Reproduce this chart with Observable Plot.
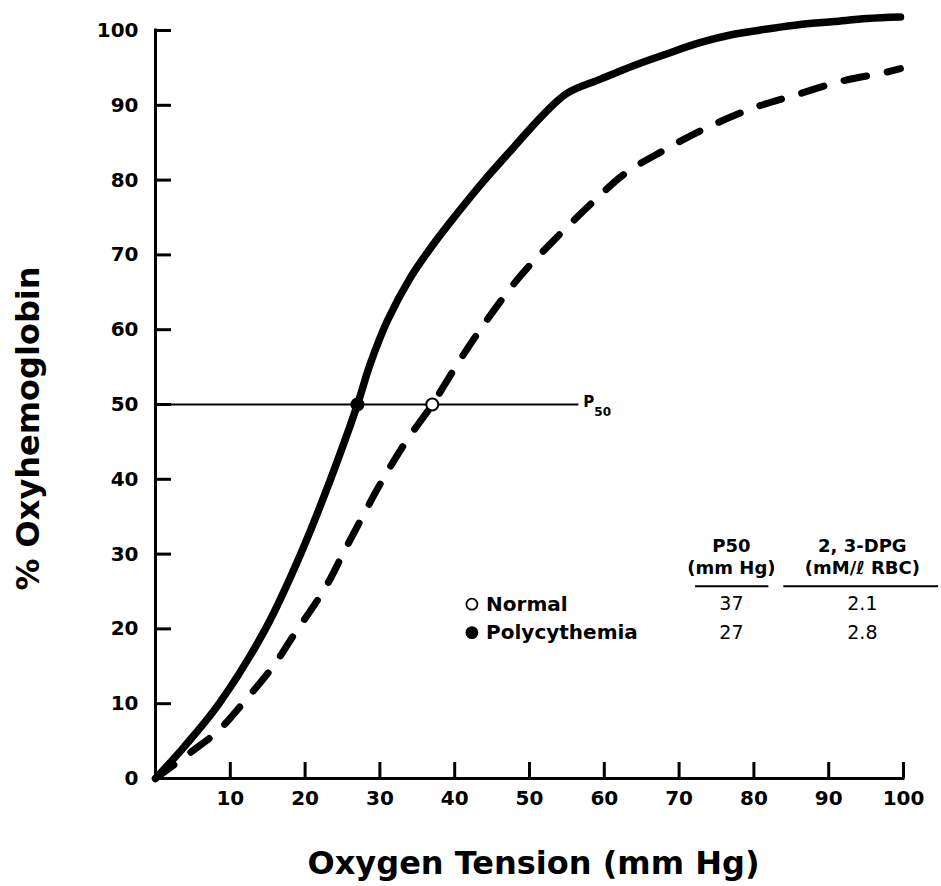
<!DOCTYPE html>
<html><head><meta charset="utf-8">
<script src="https://cdn.jsdelivr.net/npm/d3@7"></script>
<script src="https://cdn.jsdelivr.net/npm/@observablehq/plot@0.6"></script>
<style>body{margin:0;background:#fff}</style>
</head><body><div id="chart"></div>
<script>
// ---- data ----
const xTicks = [10, 20, 30, 40, 50, 60, 70, 80, 90, 100];
const yTicks = [0, 10, 20, 30, 40, 50, 60, 70, 80, 90, 100];
const yTickMarks = [10, 20, 30, 40, 50, 60, 70, 80, 90, 100];

// Polycythemia (solid)
const polyX = [0, 3.8, 8.5, 14.7, 19.4, 23.4, 27, 28.7, 31.0, 34.1, 37.2, 40.3, 43.9, 47.9, 51.5, 55.0, 59.5, 63.9, 68.4, 72.9, 77.3, 81.8, 86.2, 90.7, 95.1, 99.6];
const polyY = [0, 4.2, 10, 20, 30, 40, 50, 55.4, 61.2, 67.0, 71.5, 75.5, 79.9, 84.4, 88.4, 91.6, 93.5, 95.3, 96.9, 98.4, 99.5, 100.2, 100.8, 101.2, 101.6, 101.8];
// Normal (dashed)
const normalX = [0, 4.7, 8.3, 11.8, 15.8, 18.5, 22.7, 25.4, 30.4, 33.6, 37, 40.8, 44.6, 48.8, 53.2, 58.2, 62.8, 68.0, 73.5, 79.8, 85.3, 92.0, 97.6, 99.6];
const normalY = [0, 3.5, 6.3, 10.2, 15.1, 19.2, 25.5, 30.7, 40, 45.2, 50, 56.1, 61.7, 67.2, 71.9, 76.8, 80.9, 84.0, 86.9, 89.6, 91.3, 93.3, 94.4, 94.9];

const groups = ["Normal", "Polycythemia"];
const p50Values = [37, 27];
const dpgValues = ["2.1", "2.8"];
const headP50 = ["P50", "(mm Hg)"];
const headDPG = ["2, 3-DPG", "(mM/ℓ RBC)"];
const p50Level = 50;

// ---- layout (annotation positions in data units) ----
const L = {
  legendDotX: 42.3, legendTextX: 44.2, rowY: [23.3, 19.5],
  colP50: 77.0, colDPG: 94.5, headY: [31.1, 28.1],
  ruleY: 25.7, rule1: [72.2, 82.0], rule2: [84.0, 104.7],
  p50LineEnd: 56.6, p50LabelX: 57.2
};
const W = 941, H = 886, MT = 30, MR = 38, MB = 108, ML = 155, TICK = 16;
const innerW = W - ML - MR, innerH = H - MT - MB;
const FONT = "DejaVu Sans, Liberation Sans, sans-serif";

const poly = polyX.map((x, i) => ({x, y: polyY[i]}));
const normal = normalX.map((x, i) => ({x, y: normalY[i]}));
const rows = groups.map((g, i) => ({g, p50: p50Values[i], dpg: dpgValues[i], y: L.rowY[i], filled: i === 1}));
const heads = [0, 1].map(i => ({a: headP50[i], b: headDPG[i], y: L.headY[i]}));

const chart = Plot.plot({
  width: W, height: H,
  marginTop: MT, marginRight: MR, marginBottom: MB, marginLeft: ML,
  x: {domain: [0, 100]},
  y: {domain: [0, 100]},
  style: {fontFamily: FONT, background: "#fff", color: "#000", overflow: "visible"},
  marks: [
    Plot.axisX({ticks: xTicks, tickSize: 0, tickPadding: 12, fontSize: 20, fontWeight: "bold", label: null}),
    Plot.axisY({ticks: yTicks, tickSize: 0, tickPadding: 17, fontSize: 20, fontWeight: "bold", label: null}),
    Plot.ruleX([0], {stroke: "#000", strokeWidth: 3, strokeLinecap: "square"}),
    Plot.ruleY([0], {stroke: "#000", strokeWidth: 3, strokeLinecap: "square"}),
    Plot.tickX(xTicks, {x: d => d, stroke: "#000", strokeWidth: 3, insetTop: innerH - TICK}),
    Plot.tickY(yTickMarks, {y: d => d, stroke: "#000", strokeWidth: 3, insetRight: innerW - TICK}),
    // P50 reference line
    Plot.ruleY([p50Level], {x1: 0, x2: L.p50LineEnd, stroke: "#000", strokeWidth: 2}),
    Plot.text(["P"], {x: L.p50LabelX, y: p50Level, text: d => d, textAnchor: "start", fontSize: 15, fontWeight: "bold", dy: -2}),
    Plot.text(["50"], {x: L.p50LabelX, y: p50Level, text: d => d, textAnchor: "start", fontSize: 12, fontWeight: "bold", dx: 11, dy: 8}),
    // curves
    Plot.line(poly, {x: "x", y: "y", curve: "catmull-rom", stroke: "#000", strokeWidth: 7.5, strokeLinecap: "round", strokeLinejoin: "round"}),
    Plot.line(normal, {x: "x", y: "y", curve: "catmull-rom", stroke: "#000", strokeWidth: 7, strokeLinecap: "round", strokeDasharray: "23,21"}),
    // P50 markers
    Plot.dot(rows, {x: "p50", y: () => p50Level, r: 6, fill: d => d.filled ? "#000" : "#fff", stroke: "#000", strokeWidth: 2}),
    // legend
    Plot.dot(rows, {x: () => L.legendDotX, y: "y", r: 5.5, fill: d => d.filled ? "#000" : "#fff", stroke: "#000", strokeWidth: 1.8}),
    Plot.text(rows, {x: () => L.legendTextX, y: "y", text: "g", textAnchor: "start", fontSize: 20, fontWeight: "bold", letterSpacing: 1.4}),
    // table
    Plot.text(heads, {x: () => L.colP50, y: "y", text: "a", fontSize: 18, fontWeight: "bold"}),
    Plot.text(heads, {x: () => L.colDPG, y: "y", text: "b", fontSize: 18, fontWeight: "bold"}),
    Plot.ruleY([L.ruleY], {x1: L.rule1[0], x2: L.rule1[1], stroke: "#000", strokeWidth: 2}),
    Plot.ruleY([L.ruleY], {x1: L.rule2[0], x2: L.rule2[1], stroke: "#000", strokeWidth: 2}),
    Plot.text(rows, {x: () => L.colP50, y: "y", text: d => String(d.p50), fontSize: 19}),
    Plot.text(rows, {x: () => L.colDPG, y: "y", text: "dpg", fontSize: 19}),
    // axis titles
    Plot.text(["Oxygen Tension (mm Hg)"], {frameAnchor: "bottom", text: d => d, fontSize: 32, fontWeight: "bold", textAnchor: "middle", dx: 4, dy: 85, lineAnchor: "middle"}),
    Plot.text(["% Oxyhemoglobin"], {frameAnchor: "left", text: d => d, fontSize: 32, fontWeight: "bold", rotate: -90, textAnchor: "middle", letterSpacing: 0.6, dx: -127, dy: 24, lineAnchor: "middle"})
  ]
});
document.getElementById("chart").appendChild(chart);
</script>
</body></html>
